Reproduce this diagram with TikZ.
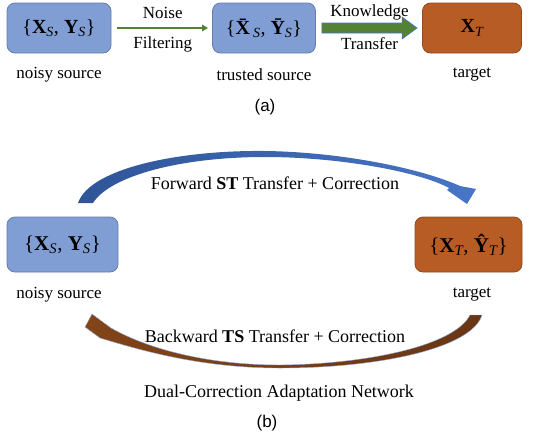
\documentclass[tikz,border=0pt]{standalone}
\usepackage{fontspec}
\setmainfont{Liberation Serif}
\setsansfont{Liberation Sans}
\usetikzlibrary{arrows.meta,calc}
\definecolor{srcblue}{RGB}{128,158,212}
\definecolor{tgtbrown}{RGB}{184,92,38}
\definecolor{kgreen}{RGB}{84,130,53}
\definecolor{fwddark}{RGB}{47,85,151}
\definecolor{fwdlight}{RGB}{72,117,198}
\definecolor{bwddark}{RGB}{105,54,20}
\definecolor{bwdlight}{RGB}{130,68,24}
\newcommand{\idx}[1]{\textsubscript{\itshape #1}}

\begin{document}
\begin{tikzpicture}[x=1pt,y=-1pt,
  databox/.style={draw=#1!80!black, fill=#1, rounded corners=8pt, line width=0.8pt,
    minimum height=50pt, inner sep=0pt, font=\fontsize{20}{24}\selectfont},
  lbl/.style={text=black, font=\fontsize{17}{20}\selectfont},
  blbl/.style={text=black, font=\fontsize{18}{22}\selectfont}]
\useasboundingbox (0,0) rectangle (535,445);

 \node[databox=srcblue, minimum width=104pt] (noisy) at (59,28) {\{\textbf{X}\idx{S}, \textbf{Y}\idx{S}\}};
 \node[databox=srcblue, minimum width=103pt] (trusted) at (264,28) {\{\textbf{\=X}\idx{S}, \textbf{\=Y}\idx{S}\}};
 \node[databox=tgtbrown, minimum width=99pt] (target) at (472,28) {\textbf{X}\idx{T}};
 \node[lbl] (noisylbl) at (59,75) {noisy source};
 \node[lbl] (trustedlbl) at (264,75) {trusted source};
 \node[lbl] (targetlbl) at (472,75) {target};
 \node[font=\sffamily\fontsize{17}{20}\selectfont] (capa) at (265,107) {(a)};

 \draw[kgreen, line width=2pt, -{Triangle[length=6pt,width=6.5pt]}] ([xshift=6pt]noisy.east) -- ([xshift=-4pt]trusted.west)
   node[lbl, midway, yshift=15pt] {Noise} node[lbl, midway, yshift=-16pt] {Filtering};

 \coordinate (ka) at ($(trusted.east)+(6,0)$);
 \coordinate (kb) at ($(target.west)+(-5,0)$);
 \filldraw[fill=kgreen, draw=fwdlight, line width=0.6pt] ($(ka)+(0,-5)$) -- ($(kb)+(-15,-5)$) -- ($(kb)+(-15,-11)$) -- (kb)
   -- ($(kb)+(-15,11)$) -- ($(kb)+(-15,5)$) -- ($(ka)+(0,5)$) -- cycle;
 \node[lbl] (know) at ($(ka)!0.5!(kb)+(0,-16)$) {Knowledge};
 \node[lbl] (transf) at ($(ka)!0.5!(kb)+(0,16)$) {Transfer};

 \node[databox=srcblue, minimum width=111pt, minimum height=55pt, font=\fontsize{21}{25}\selectfont] (bnoisy) at (62.5,244.5) {\{\textbf{X}\idx{S}, \textbf{Y}\idx{S}\}};
 \node[databox=tgtbrown, minimum width=107pt, minimum height=55pt, font=\fontsize{21}{25}\selectfont] (btarget) at (468.5,244.5) {\{\textbf{X}\idx{T}, \textbf{\^Y}\idx{T}\}};
 \node[lbl] (bnoisylbl) at (59,295) {noisy source};
 \node[lbl] (btargetlbl) at (472,295) {target};

 \shade[left color=fwddark, right color=fwdlight] (78,203) .. controls (90,168) and (180,150) .. (265,151)
   .. controls (340,152) and (420,168) .. (460,186) -- (476,189) -- (467,204) -- (447,190) -- (449,188)
   .. controls (420,172) and (340,157) .. (265,157) .. controls (180,157) and (110,176) .. (93,203) -- cycle;
 \node[blbl] (fwd) at (275,183) {Forward \textbf{ST} Transfer + Correction};

 \shade[left color=bwdlight, right color=bwddark, draw=fwdlight!60, line width=0.4pt] (482,315)
   .. controls (472,348) and (380,368) .. (280,368) .. controls (200,368) and (140,350) .. (100,338) -- (85,327) -- (92,314) -- (111,328)
   .. controls (150,350) and (210,365) .. (280,365) .. controls (370,364) and (455,345) .. (470,315) -- cycle;
 \node[blbl] (bwd) at (275,336) {Backward \textbf{TS} Transfer + Correction};

 \node[blbl] (dcan) at (279,393) {Dual-Correction Adaptation Network};
 \node[font=\sffamily\fontsize{17}{20}\selectfont] (capb) at (267,423) {(b)};
\end{tikzpicture}
\end{document}
